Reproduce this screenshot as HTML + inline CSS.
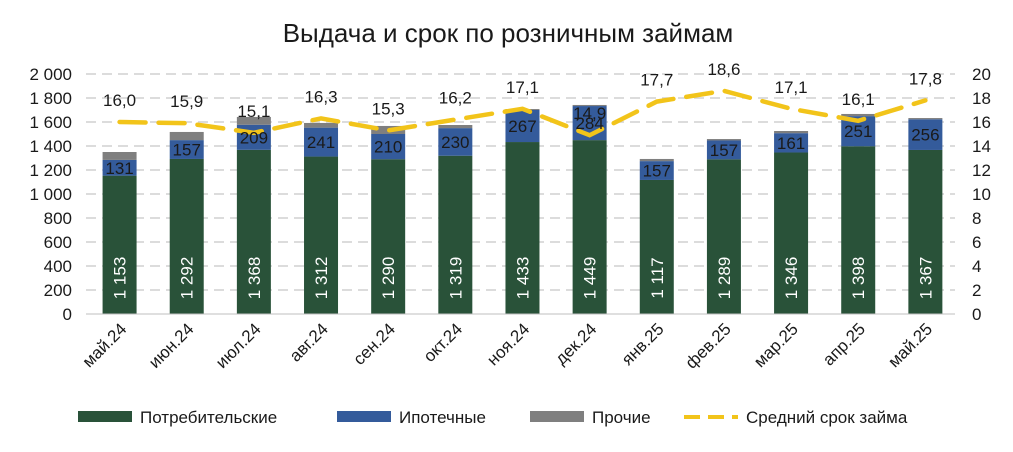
<!DOCTYPE html>
<html><head><meta charset="utf-8"><style>
body{margin:0;background:#fff;font-family:"Liberation Sans",sans-serif;}
svg text{font-family:"Liberation Sans",sans-serif;}
</style></head><body>
<svg id="c" width="1013" height="447" xmlns="http://www.w3.org/2000/svg">
<text x="508" y="42" text-anchor="middle" font-size="26" fill="#1a1a1a">Выдача и срок по розничным займам</text>
<g id="grid"></g><g id="bars"></g><g id="line"></g><g id="labels"></g><g id="axes"></g>
<g font-size="17" fill="#1a1a1a">
<g><rect x="78" y="411" width="54" height="11" fill="#295239"/><text x="140" y="423">Потребительские</text></g>
<g><rect x="337" y="411" width="54" height="11" fill="#345b9b"/><text x="399" y="423">Ипотечные</text></g>
<g><rect x="530" y="411" width="54" height="11" fill="#7f7f7f"/><text x="592" y="423">Прочие</text></g>
<g><line x1="684" y1="417" x2="738" y2="417" stroke="#f2c41a" stroke-width="4" stroke-dasharray="16,8"/><text x="746" y="423">Средний срок займа</text></g>
</g>
</svg>
<script>
const categories=["май.24","июн.24","июл.24","авг.24","сен.24","окт.24","ноя.24","дек.24","янв.25","фев.25","мар.25","апр.25","май.25"];
const consumer=[1153,1292,1368,1312,1290,1319,1433,1449,1117,1289,1346,1398,1367];
const mortgage=[131,157,209,241,210,230,267,284,157,157,161,251,256];
const other=[66,68,65,39,67,26,8,9,18,12,18,18,10];
const term=[16.0,15.9,15.1,16.3,15.3,16.2,17.1,14.9,17.7,18.6,17.1,16.1,17.8];
const leftTicks=[0,200,400,600,800,1000,1200,1400,1600,1800,2000];
const rightTicks=[0,2,4,6,8,10,12,14,16,18,20];
const NS="http://www.w3.org/2000/svg";
const x0=86,step=67.15,y0=314,y1=74;
const xc=i=>x0+step*(i+0.5);
const yL=v=>y0-(v/2000)*(y0-y1);
const yR=v=>y0-(v/20)*(y0-y1);
function mk(t,a,p){const e=document.createElementNS(NS,t);for(const k in a)e.setAttribute(k,a[k]);p.appendChild(e);return e;}
const fmt=v=>{const s=String(v);return s.length>3?s.slice(0,s.length-3)+" "+s.slice(-3):s;};
const G=document.getElementById('grid'),B=document.getElementById('bars'),L=document.getElementById('line'),T=document.getElementById('labels'),A=document.getElementById('axes');
leftTicks.forEach((v,i)=>{
 if(v>0){const g=mk('line',{x1:x0,x2:955,y1:yL(v),y2:yL(v),stroke:'#d0d0d0','stroke-width':1.5,'stroke-dasharray':'10,6'},G);
 
 }
 const t=mk('text',{x:72,y:yL(v)+6,'text-anchor':'end','font-size':17,fill:'#1a1a1a'},A);t.textContent=v.toLocaleString('ru-RU').replace(/\s/g,' ');
 
 
});
rightTicks.forEach(v=>{
 const t=mk('text',{x:972,y:yR(v)+6,'font-size':17,fill:'#1a1a1a'},A);t.textContent=v;
 
 
});
const ax=mk('line',{x1:x0,x2:955,y1:y0,y2:y0,stroke:'#bfbfbf','stroke-width':1},A);


const bw=34;
categories.forEach((c,i)=>{
 const x=xc(i)-bw/2;
 const segs=[[consumer[i],0,'#295239','bar-consumer'],[mortgage[i],consumer[i],'#345b9b','bar-mortgage'],[other[i],consumer[i]+mortgage[i],'#7f7f7f','bar-other']];
 segs.forEach(s=>{const r=mk('rect',{x:x,y:yL(s[1]+s[0]),width:bw,height:yL(s[1])-yL(s[1]+s[0]),fill:s[2]},B);
 
 });
 const t1=mk('text',{x:0,y:0,'text-anchor':'middle','font-size':17,fill:'#fff',transform:`translate(${xc(i)+6},278) rotate(-90)`},T);t1.textContent=fmt(consumer[i]);
 
 
 const my=(yL(consumer[i])+yL(consumer[i]+mortgage[i]))/2;
 const t2=mk('text',{x:xc(i),y:my+6,'text-anchor':'middle','font-size':17,fill:'#1a1a1a'},T);t2.textContent=mortgage[i];
 
 
 const t3=mk('text',{x:xc(i),y:yR(term[i])-16,'text-anchor':'middle','font-size':17,fill:'#1a1a1a'},T);t3.textContent=term[i].toFixed(1).replace('.',',');
 
 
 const t4=mk('text',{x:0,y:0,'text-anchor':'end','font-size':17,fill:'#1a1a1a',transform:`translate(${xc(i)+8},330) rotate(-45)`},A);t4.textContent=c;
 
 
});
const pl=mk('polyline',{points:term.map((v,i)=>xc(i)+','+yR(v)).join(' '),fill:'none',stroke:'#f2c41a','stroke-width':4.5,'stroke-dasharray':'26,13','stroke-linecap':'round'},L);


</script>
</body></html>
